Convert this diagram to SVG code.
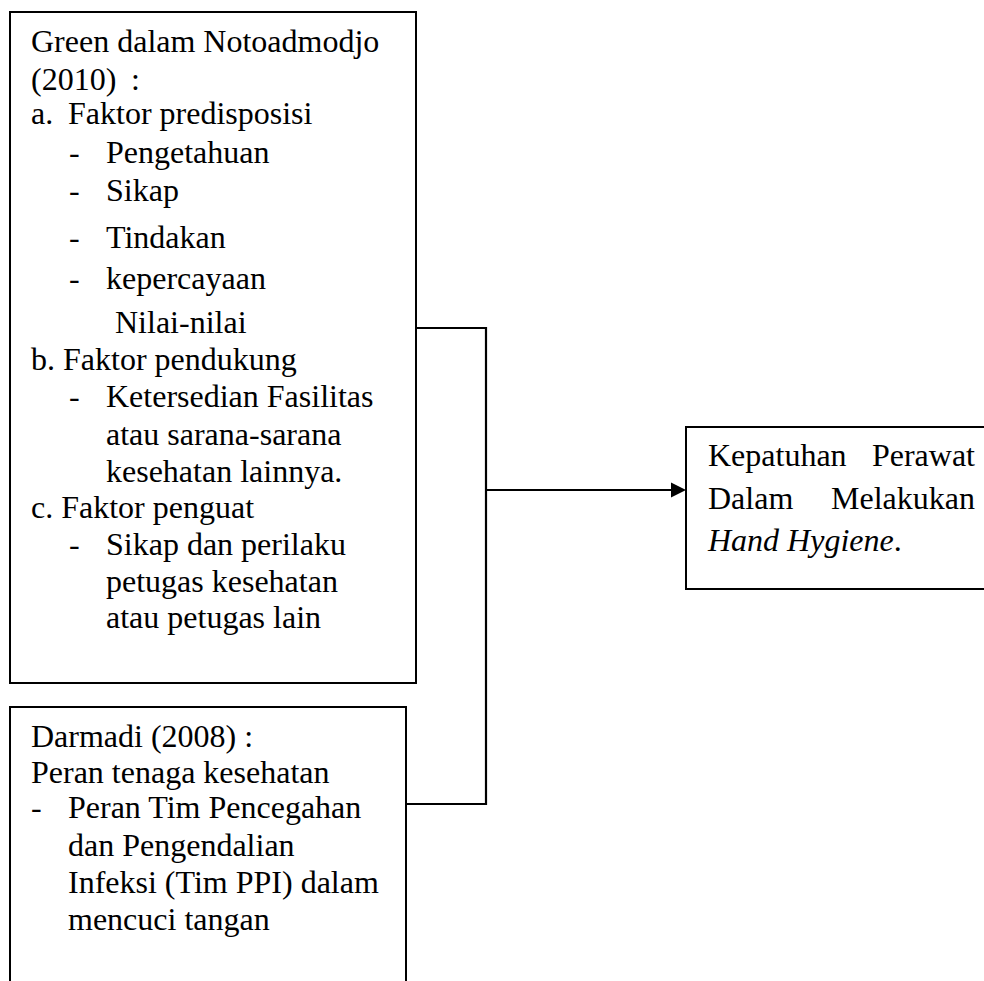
<svg xmlns="http://www.w3.org/2000/svg" width="984" height="981" viewBox="0 0 984 981">
<style>
.box{fill:#fff;stroke:#000;stroke-width:2}
.t{font-family:"Liberation Serif","Times New Roman",serif;font-size:32px;fill:#000}
.it{font-style:italic}
.con{fill:none;stroke:#000;stroke-width:2.2}
</style>
<rect width="984" height="981" fill="#fff"/>
<g id="connectors">
<polyline class="con" points="416,328 486,328 486,804 406,804"/>
<line class="con" x1="486" y1="490" x2="672" y2="490"/>
<path d="M671,482.5 L686,490 L671,497.5 Z" fill="#000"/>
</g>
<g id="node-green">
<rect class="box" x="10" y="12" width="406" height="671"/>
<text class="t" x="31" y="52">Green dalam Notoadmodjo</text>
<text class="t" x="31" y="90">(2010)</text>
<text class="t" x="131" y="90">:</text>
<text class="t" x="31" y="124">a.</text>
<text class="t" x="68" y="124">Faktor predisposisi</text>
<text class="t" x="69" y="163">-</text>
<text class="t" x="106" y="163">Pengetahuan</text>
<text class="t" x="69" y="201">-</text>
<text class="t" x="106" y="201">Sikap</text>
<text class="t" x="69" y="248">-</text>
<text class="t" x="106" y="248">Tindakan</text>
<text class="t" x="69" y="289">-</text>
<text class="t" x="106" y="289">kepercayaan</text>
<text class="t" x="115" y="333">Nilai-nilai</text>
<text class="t" x="31" y="370">b. Faktor pendukung</text>
<text class="t" x="69" y="407">-</text>
<text class="t" x="106" y="407">Ketersedian Fasilitas</text>
<text class="t" x="106" y="445">atau sarana-sarana</text>
<text class="t" x="106" y="482">kesehatan lainnya.</text>
<text class="t" x="31" y="518">c. Faktor penguat</text>
<text class="t" x="69" y="555">-</text>
<text class="t" x="106" y="555">Sikap dan perilaku</text>
<text class="t" x="106" y="592">petugas kesehatan</text>
<text class="t" x="106" y="628">atau petugas lain</text>
</g>
<g id="node-darmadi">
<rect class="box" x="10" y="707" width="396" height="290"/>
<text class="t" x="31" y="747">Darmadi (2008) :</text>
<text class="t" x="31" y="783">Peran tenaga kesehatan</text>
<text class="t" x="31" y="818">-</text>
<text class="t" x="68" y="818">Peran Tim Pencegahan</text>
<text class="t" x="68" y="856">dan Pengendalian</text>
<text class="t" x="68" y="893">Infeksi (Tim PPI) dalam</text>
<text class="t" x="68" y="930">mencuci tangan</text>
</g>
<g id="node-kepatuhan">
<rect class="box" x="686" y="427" width="310" height="162"/>
<text class="t" x="708" y="466">Kepatuhan</text>
<text class="t" x="975" y="466" text-anchor="end">Perawat</text>
<text class="t" x="708" y="509">Dalam</text>
<text class="t" x="975" y="509" text-anchor="end">Melakukan</text>
<text class="t" x="708" y="551"><tspan class="it">Hand Hygiene</tspan>.</text>
</g>
</svg>
